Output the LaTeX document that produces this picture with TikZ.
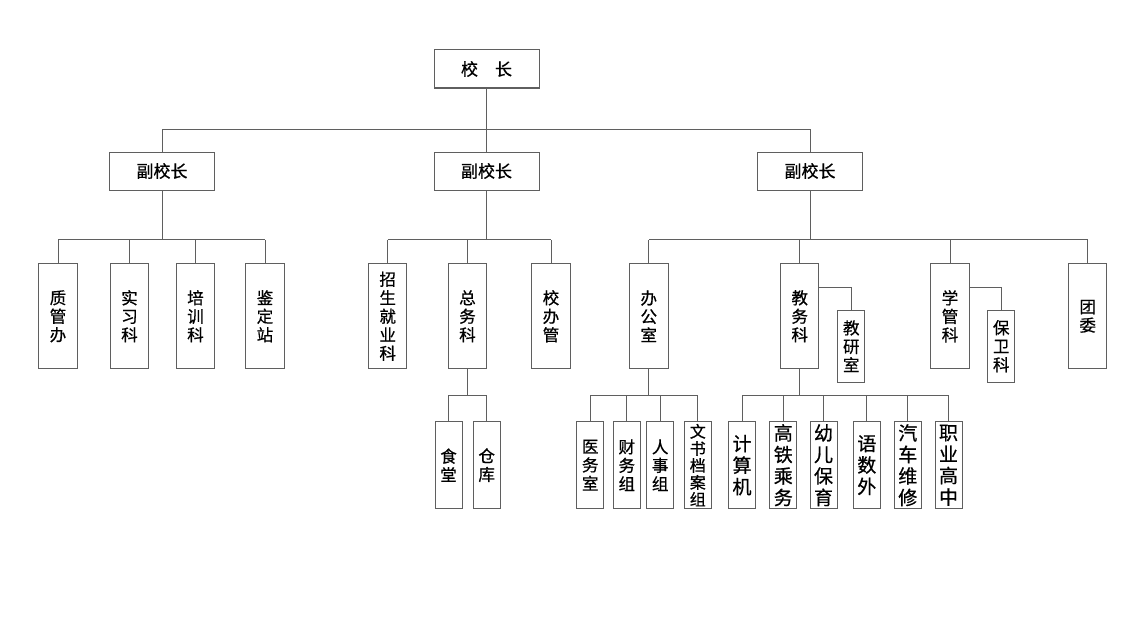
\documentclass[tikz,border=0pt]{standalone}
\usepackage{fontspec}
\newfontfamily\cjk[FakeBold=0.7]{Noto Sans CJK SC}
\definecolor{ln}{RGB}{95,95,95}
\begin{document}
\begin{tikzpicture}[x=1pt,y=-1pt,
  bx/.style={draw=ln, line width=1pt, fill=white, inner sep=0pt, align=center, text=black,
             font=\cjk\fontsize{16.5}{18.5}\selectfont},
  hb/.style={bx, minimum width=105pt, minimum height=38pt, font=\cjk\fontsize{17}{20}\selectfont},
  mb/.style={bx, minimum width=38.5pt, minimum height=104.7pt},
  sb/.style={bx, minimum width=27.3pt, minimum height=72.3pt},
  lb/.style={bx, minimum width=27pt, minimum height=87pt},
  lbig/.style={lb, font=\cjk\fontsize{19}{21.5}\selectfont},
  lsm/.style={lb, font=\cjk\fontsize{16}{17}\selectfont},
  cn/.style={draw=ln, line width=1pt}]
\useasboundingbox (0,0) rectangle (1130,626);
\fill[white] (0,0) rectangle (1130,626);

% bus levels
\coordinate (b1) at (0,129);
\coordinate (b2) at (0,239.5);
\coordinate (b3) at (0,395);
\coordinate (bs) at (0,287.3);

% top
\node[hb] (ceo) at (486.5,69) {校\hspace{1em}长};
\node[hb] (v1) at (162,171) {副校长};
\node[hb] (v2) at (486.5,171) {副校长};
\node[hb] (v3) at (810,171) {副校长};

% left group
\node[mb] (zg) at (58,316.3) {质\\管\\办};
\node[mb] (sx) at (129.5,316.3) {实\\习\\科};
\node[mb] (px) at (195.5,316.3) {培\\训\\科};
\node[mb] (jd) at (265,316.3) {鉴\\定\\站};

% middle group
\node[mb] (zs) at (387.7,316.3) {招\\生\\就\\业\\科};
\node[mb] (zw) at (467.5,316.3) {总\\务\\科};
\node[mb] (xb) at (551,316.3) {校\\办\\管};
\node[lb] (st) at (448.5,465.2) {食\\堂};
\node[lb] (ck) at (486.7,465.2) {仓\\库};

% right group
\node[mb] (bg) at (648.8,316.3) {办\\公\\室};
\node[mb] (jw) at (799.7,316.3) {教\\务\\科};
\node[mb] (xg) at (950,316.3) {学\\管\\科};
\node[mb] (tw) at (1087.7,316.3) {团\\委};
\node[sb] (jy) at (851.3,346.2) {教\\研\\室};
\node[sb] (bw) at (1001.2,346.2) {保\\卫\\科};

\node[lb] (yw) at (590.2,465.2) {医\\务\\室};
\node[lb] (cw) at (626.8,465.2) {财\\务\\组};
\node[lb] (rs) at (660.2,465.2) {人\\事\\组};
\node[lsm] (wd) at (697.8,465.2) {文\\书\\档\\案\\组};

\node[lbig] (js) at (742,465.2) {计\\算\\机};
\node[lbig] (gt) at (783.3,465.2) {高\\铁\\乘\\务};
\node[lbig] (ye) at (823.5,465.2) {幼\\儿\\保\\育};
\node[lbig] (ys) at (866.8,465.2) {语\\数\\外};
\node[lbig] (qc) at (907.8,465.2) {汽\\车\\维\\修};
\node[lbig] (zy) at (948.5,465.2) {职\\业\\高\\中};

% connectors: top level
\draw[cn] (ceo.south) -- (v2.north);
\draw[cn] (v1.north) -- (v1.north |- b1) -- (v3.north |- b1) -- (v3.north);

% left group
\draw[cn] (v1.south) -- (v1.south |- b2);
\draw[cn] (zg.north |- b2) -- (jd.north |- b2);
\foreach \n in {zg,sx,px,jd} \draw[cn] (\n.north) -- (\n.north |- b2);

% middle group
\draw[cn] (v2.south) -- (v2.south |- b2);
\draw[cn] (zs.north |- b2) -- (xb.north |- b2);
\foreach \n in {zs,zw,xb} \draw[cn] (\n.north) -- (\n.north |- b2);
\draw[cn] (zw.south) -- (zw.south |- b3);
\draw[cn] (st.north |- b3) -- (ck.north |- b3);
\foreach \n in {st,ck} \draw[cn] (\n.north) -- (\n.north |- b3);

% right group
\draw[cn] (v3.south) -- (v3.south |- b2);
\draw[cn] (bg.north |- b2) -- (tw.north |- b2);
\foreach \n in {bg,jw,xg,tw} \draw[cn] (\n.north) -- (\n.north |- b2);
\draw[cn] (jw.east |- bs) -| (jy.north);
\draw[cn] (xg.east |- bs) -| (bw.north);

\draw[cn] (bg.south) -- (bg.south |- b3);
\draw[cn] (yw.north |- b3) -- (wd.north |- b3);
\foreach \n in {yw,cw,rs,wd} \draw[cn] (\n.north) -- (\n.north |- b3);

\draw[cn] (jw.south) -- (jw.south |- b3);
\draw[cn] (js.north |- b3) -- (zy.north |- b3);
\foreach \n in {js,gt,ye,ys,qc,zy} \draw[cn] (\n.north) -- (\n.north |- b3);
\end{tikzpicture}
\end{document}
